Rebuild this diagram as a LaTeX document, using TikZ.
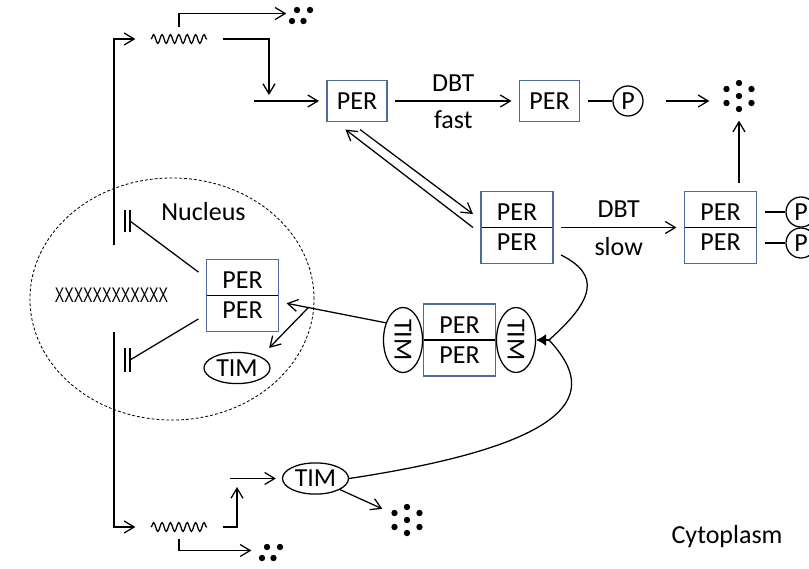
\documentclass[tikz,border=0pt]{standalone}
\usepackage{fontspec}
\usepackage{graphicx}
\setmainfont{Carlito}
\newfontfamily\genefont{Liberation Sans}
\usetikzlibrary{arrows.meta,shapes.geometric,decorations.pathmorphing}
\definecolor{boxblue}{RGB}{76,108,158}

\begin{document}
\begin{tikzpicture}[x=0.025cm, y=-0.025cm, >={Straight Barb[length=2.5mm,width=3mm]},
  line width=0.9pt, font=\fontsize{18.5}{21.5}\selectfont,
  box/.style={draw=boxblue, line width=1pt, minimum width=1.5cm, minimum height=1.025cm,
    inner sep=0pt, outer sep=0.2cm, align=center},
  dimer/.style={box, minimum width=1.8cm, minimum height=1.8cm,
    path picture={\draw[black, line width=0.9pt] (path picture bounding box.west) -- (path picture bounding box.east);}},
  prot/.style={draw, ellipse, inner sep=0pt, minimum width=1.65cm, minimum height=0.78cm},
  vprot/.style={draw, ellipse, inner sep=0pt, minimum width=0.975cm, minimum height=1.625cm},
  phos/.style={draw, circle, inner sep=0pt, minimum size=0.75cm},
  mrna/.style={inner sep=0pt, minimum width=2.15cm, minimum height=0.55cm},
  wave/.style={decorate, decoration={snake, amplitude=0.11cm, segment length=0.21cm}},
  bits/.style={inner sep=0pt, minimum size=1.2cm}]
  \useasboundingbox (0,0) rectangle (809,568);

  \node[draw, ellipse, dash pattern=on 2pt off 1.5pt, line width=0.6pt,
    minimum width=7.1cm, minimum height=6.05cm] (nucleus) at (172,299) {};
  \node (nucLabel) at (203.5,212) {Nucleus};
  \node (cytLabel) at (727,537) {Cytoplasm};
  \node (gene) at (111.5,295.5) {\genefont\fontsize{15}{15}\selectfont\scalebox{0.67}[1]{XXXXXXXXXXXX}};

  \coordinate (geneUp) at (114,245);
  \coordinate (geneLow) at (114,332);
  \coordinate (rep1) at (130,221);
  \coordinate (rep2) at (130,360);
  \coordinate (ribo1) at (269,95);
  \coordinate (ribo1s) at (254,101);
  \coordinate (ribo2) at (237,487);
  \coordinate (ribo2s) at (230,478.5);
  \coordinate (merge) at (549,340);

  \path (179,39) node[mrna] (mrnaPer) {}
        (179,527) node[mrna] (mrnaTim) {}
        (301,13.5) node[bits, minimum size=0.7cm] (degA) {}
        (271,550.5) node[bits, minimum size=0.95cm] (degD) {}
        (357,101) node[box] (per1) {PER}
        (549.5,101) node[box] (per2) {PER}
        (628,101) node[phos] (p1) {P}
        (739,96) node[bits, minimum width=1.45cm] (degB) {}
        (517,227.5) node[dimer] (per3) {PER\\PER}
        (720.5,227.5) node[dimer] (per4) {PER\\PER}
        (801,212) node[phos] (p2) {P}
        (801,243) node[phos] (p3) {P}
        (242.5,295.5) node[dimer] (per5) {PER\\PER}
        (237,368) node[prot] (tim1) {TIM}
        (459.5,340) node[dimer] (per6) {PER\\PER}
        (403,340) node[vprot] (tim2) {\rotatebox{-90}{TIM}}
        (516,340) node[vprot] (tim4) {\rotatebox{-90}{TIM}}
        (315.5,478.5) node[prot] (tim3) {TIM}
        (407,520) node[bits] (degC) {};

  % degradation products
  \foreach \n in {degA,degD}
    \foreach \dx/\dy in {-4/-3.5,9/-3.5,-9/7.5,2.5/7.5}
      \fill ([shift={(\dx,\dy)}]\n.center) circle (3.2);
  \foreach \n in {degB,degC}
    \foreach \dx/\dy in {0/-13,-12.5/-7,12.5/-7,0/0,-12.5/7,12.5/7,0/13}
      \fill ([shift={(\dx,\dy)}]\n.center) circle (3.2);

  % transcription and translation
  \draw[->] (geneUp) |- (mrnaPer);
  \draw[->] (geneLow) |- (mrnaTim);
  \draw[wave] (mrnaPer.center) ++(-28,0) -- ++(56,0);
  \draw[wave] (mrnaTim.center) ++(-28,0) -- ++(56,0);
  \draw[->] (mrnaPer.north) |- (degA);
  \draw[->] (mrnaTim.south) |- (degD);
  \draw[->] (mrnaPer.east) -| (ribo1);
  \draw[->] (mrnaTim.east) -| (ribo2);
  \draw[->] (ribo1s) -- (per1);
  \draw[->, shorten >=0.15cm] (ribo2s) -- (tim3);
  \draw[->] (tim3) -- (degC);

  % phosphorylation
  \draw[->] (per1) -- node[above=3pt] {DBT} node[below=3pt] {fast} (per2);
  \draw (per2) -- (p1);
  \draw[->, shorten <=0.55cm] (p1) -- (degB.west |- p1);
  \draw[->] (per1.-84) -- (per3.163);
  \draw[->] (per3.180) -- (per1.-112);
  \draw[->] (per3) -- node[above=3pt] {DBT} node[below=3pt] {slow} (per4);
  \draw (p2 -| per4.east) -- (p2);
  \draw (p3 -| per4.east) -- (p3);
  \draw[->] (per4.north -| degB) -- (degB.south);

  % complex and repression
  \draw[->] (tim2.135) -- coordinate[pos=0.78] (split) (per5.-10);
  \draw[->, shorten >=0.3cm] (split) -- (tim1.north east);
  \draw (per5.152) -- (rep1);
  \draw (per5.-152) -- (rep2);
  \draw (rep1) ++(0,-11) -- ++(0,22) (rep1) ++(-5,-11) -- ++(0,22);
  \draw (rep2) ++(0,-12) -- ++(0,24) (rep2) ++(-5,-12) -- ++(0,24);
  \draw (per3.-32) .. controls +(40,20) and +(45,-40) .. (merge);
  \draw (tim3.east) .. controls +(250,-38) and +(42,45) .. (merge);
  \draw[-{Latex[length=2.5mm,width=3mm]}] (merge) -- (tim4);
\end{tikzpicture}
\end{document}
